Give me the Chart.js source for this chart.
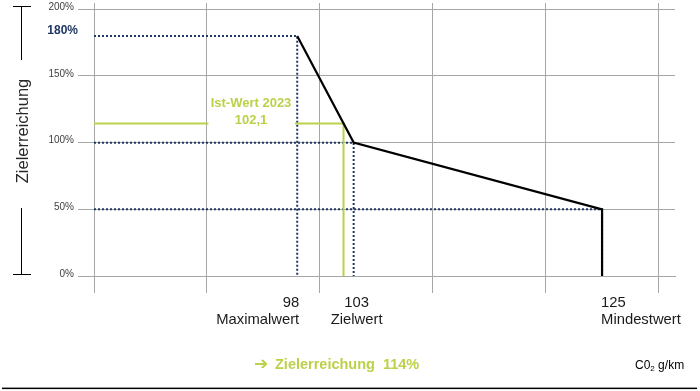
<!DOCTYPE html>
<html><head><meta charset="utf-8">
<script src="https://cdn.jsdelivr.net/npm/chart.js@4/dist/chart.umd.min.js"></script>
<style>html,body{margin:0;padding:0;background:#fff;} canvas{display:block;}</style>
</head><body>
<canvas id="c" width="700" height="391"></canvas>
<script>
// ---- data ----
const pointLabels = ['Maximalwert', 'Zielwert', 'Mindestwert'];
const pointX = [98, 103, 125];          // CO2 g/km
const pointY = [180, 100, 50];          // Zielerreichung in %
const curveX = [98, 103, 125, 125];
const curveY = [180, 100, 50, 0];
const istX = 102.1;                     // Ist-Wert 2023
const istY = 114.4;                     // resulting Zielerreichung
const istLabel = ['Ist-Wert 2023', '102,1'];
const peakLabel = '180%';
const yTicks = [0, 50, 100, 150, 200];
const xGridValues = [80, 90, 100, 110, 120, 130];
const resultLabel = 'Zielerreichung  114%';
const yTitle = 'Zielerreichung';
const unitParts = ['C0', '2', ' g/km'];

// ---- scale ranges ----
const X_MIN = 80, X_MAX = 131.46, Y_MIN = 0, Y_MAX = 204.7;
const NAVY = '#1f3864', GREEN = '#bdd049', GRID = '#a6a6a6';
const FONT = "'Liberation Sans', Arial, sans-serif";

const curveData = curveX.map((x, i) => ({ x, y: curveY[i] }));
const refDatasets = pointX.map((px, i) => ({
  data: [{ x: X_MIN, y: pointY[i] }, { x: px, y: pointY[i] }, { x: px, y: 0 }],
  showLine: true, borderColor: NAVY, borderWidth: 2, borderDash: [2, 2],
  pointRadius: 0, tension: 0, fill: false
}));
const istData = [{ x: X_MIN, y: istY }, { x: istX, y: istY }, { x: istX, y: 0 }];

const annot = {
  id: 'annot',
  afterDatasetsDraw(chart) {
    const { ctx, scales: { x, y } } = chart;
    const ly = y.getPixelForValue(istY);
    ctx.save();
    const bx = x.getPixelForValue(xGridValues[1]) + 1.5;
    ctx.fillStyle = '#fff';
    ctx.fillRect(bx, ly - 30, 295 - bx, 36);
    ctx.fillStyle = GREEN;
    ctx.font = 'bold 13px ' + FONT;
    ctx.textAlign = 'center';
    ctx.textBaseline = 'middle';
    ctx.fillText(istLabel[0], 251, ly - 20);
    ctx.fillText(istLabel[1], 251, ly - 3);
    ctx.restore();
  },
  afterDraw(chart) {
    const { ctx, scales: { x, y } } = chart;
    ctx.save();
    // axis title bracket
    ctx.strokeStyle = '#000';
    ctx.lineWidth = 1;
    ctx.beginPath();
    ctx.moveTo(13, 6.5); ctx.lineTo(31, 6.5);
    ctx.moveTo(21.5, 6.5); ctx.lineTo(21.5, 60);
    ctx.moveTo(21.5, 208); ctx.lineTo(21.5, 274.5);
    ctx.moveTo(13, 274.5); ctx.lineTo(31, 274.5);
    ctx.stroke();
    // axis title
    ctx.save();
    ctx.translate(27.5, 131);
    ctx.rotate(-Math.PI / 2);
    ctx.font = '16.5px ' + FONT;
    ctx.fillStyle = '#262626';
    ctx.textAlign = 'center';
    ctx.textBaseline = 'alphabetic';
    ctx.fillText(yTitle, 0, 0);
    ctx.restore();
    // peak label
    ctx.font = 'bold 12px ' + FONT;
    ctx.fillStyle = NAVY;
    ctx.textAlign = 'right';
    ctx.textBaseline = 'middle';
    ctx.fillText(peakLabel, 78, y.getPixelForValue(pointY[0]) - 5);
    // x point labels
    const aligns = ['right', 'center', 'left'];
    const dx = [2, 3, -1];
    ctx.font = '14.8px ' + FONT;
    ctx.fillStyle = '#1a1a1a';
    pointX.forEach((v, i) => {
      const px = x.getPixelForValue(v) + dx[i];
      ctx.textAlign = aligns[i];
      ctx.fillText(String(v), px, 303);
      ctx.fillText(pointLabels[i], px, 319.5);
    });
    // result
    ctx.fillStyle = GREEN;
    ctx.textAlign = 'left';
    ctx.font = "bold 17px 'DejaVu Sans', sans-serif";
    ctx.fillText('\u2794', 254, 365);
    ctx.font = 'bold 14.5px ' + FONT;
    ctx.fillText(resultLabel, 275, 365);
    // unit
    ctx.fillStyle = '#000';
    let ux = 635;
    ctx.font = '12px ' + FONT;
    ctx.fillText(unitParts[0], ux, 366);
    ux += ctx.measureText(unitParts[0]).width;
    ctx.font = '8px ' + FONT;
    ctx.fillText(unitParts[1], ux, 368.5);
    ux += ctx.measureText(unitParts[1]).width;
    ctx.font = '12px ' + FONT;
    ctx.fillText(unitParts[2], ux, 366);
    // bottom rule
    ctx.fillRect(2, 387.6, 695, 1.5);
    ctx.restore();
  }
};

new Chart(document.getElementById('c'), {
  type: 'scatter',
  data: {
    datasets: [
      { data: curveData, showLine: true, borderColor: '#000', borderWidth: 2.2,
        pointRadius: 0, tension: 0, fill: false },
      { data: istData, showLine: true, borderColor: GREEN, borderWidth: 2,
        pointRadius: 0, tension: 0, fill: false },
      ...refDatasets
    ]
  },
  options: {
    responsive: false,
    animation: false,
    devicePixelRatio: 1,
    layout: { padding: { left: 0, right: 25, top: 3, bottom: 0 } },
    plugins: { legend: { display: false }, tooltip: { enabled: false }, title: { display: false } },
    scales: {
      x: {
        type: 'linear', min: X_MIN, max: X_MAX,
        afterBuildTicks: s => { s.ticks = xGridValues.map(v => ({ value: v })); },
        afterFit: s => { s.height = 115; s.paddingLeft = 0; s.paddingRight = 0; },
        ticks: { display: false },
        grid: { color: GRID, lineWidth: 1, drawTicks: true, tickLength: 17 },
        border: { display: true, color: GRID, width: 1 }
      },
      y: {
        type: 'linear', min: Y_MIN, max: Y_MAX,
        afterBuildTicks: s => { s.ticks = yTicks.map(v => ({ value: v })); },
        afterFit: s => { s.width = 94; s.paddingTop = 0; s.paddingBottom = 0; },
        ticks: {
          callback: v => v + '%', color: '#404040', padding: 4, labelOffset: -2,
          font: { family: FONT, size: 10 }
        },
        grid: { color: GRID, lineWidth: 1, drawTicks: true, tickLength: 16 },
        border: { display: true, color: GRID, width: 1 }
      }
    }
  },
  plugins: [annot]
});
</script>
</body></html>
